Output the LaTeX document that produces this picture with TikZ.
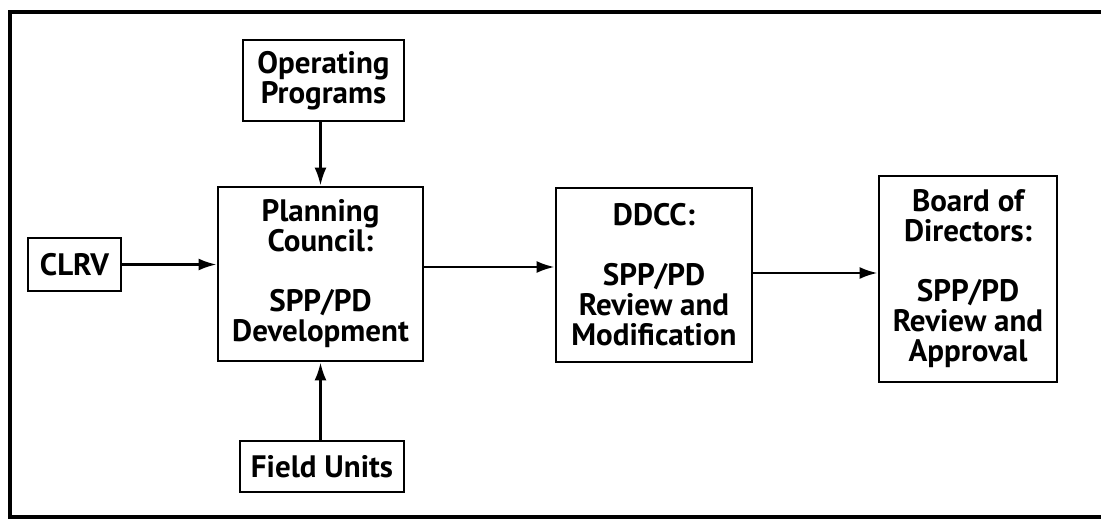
\documentclass[tikz,border=0pt]{standalone}
\usepackage{fontspec}
\setmainfont{PT Sans}
\usetikzlibrary{arrows.meta}
\begin{document}
\begin{tikzpicture}[x=1pt,y=-1pt,
  box/.style={draw,line width=2.8pt,inner sep=0pt,align=center,
    font=\fontsize{31}{30}\selectfont\bfseries},
  arr/.style={line width=2.6pt,-{Latex[length=18pt,width=12pt]}}]
\useasboundingbox (0,0) rectangle (1101,520);
\clip (0,0) rectangle (1101,520);
\draw[line width=4pt] (1120,12) -- (10,12) -- (10,517) -- (1120,517);
\node[box,minimum width=161pt,minimum height=81pt] (op) at (323.5,80.5) {Operating\\Programs};
\node[box,minimum width=205pt,minimum height=174pt] (pc) at (320.5,274) {Planning\\Council:\\[30pt]SPP/PD\\Development};
\node[box,minimum width=93pt,minimum height=53pt] (clrv) at (74.5,264.5) {CLRV};
\node[box,minimum width=164pt,minimum height=51pt] (fu) at (322,466.5) {Field Units};
\node[box,minimum width=196pt,minimum height=174pt] (ddcc) at (654,275) {DDCC:\\[30pt]SPP/PD\\Review and\\Modification};
\node[box,minimum width=178pt,minimum height=206pt] (bod) at (968,279) {Board of\\Directors:\\[30pt]SPP/PD\\Review and\\Approval};
\draw[arr] (op.south -| pc.north) -- (pc.north);
\draw[arr] (fu.north -| pc.south) -- (pc.south);
\draw[arr] (clrv.east) -- (clrv.east -| pc.west);
\draw[arr] ([yshift=7pt]pc.east) -- ([yshift=7pt]pc.east -| ddcc.west);
\draw[arr] ([yshift=2pt]ddcc.east) -- ([yshift=2pt]ddcc.east -| bod.west);
\end{tikzpicture}
\end{document}
